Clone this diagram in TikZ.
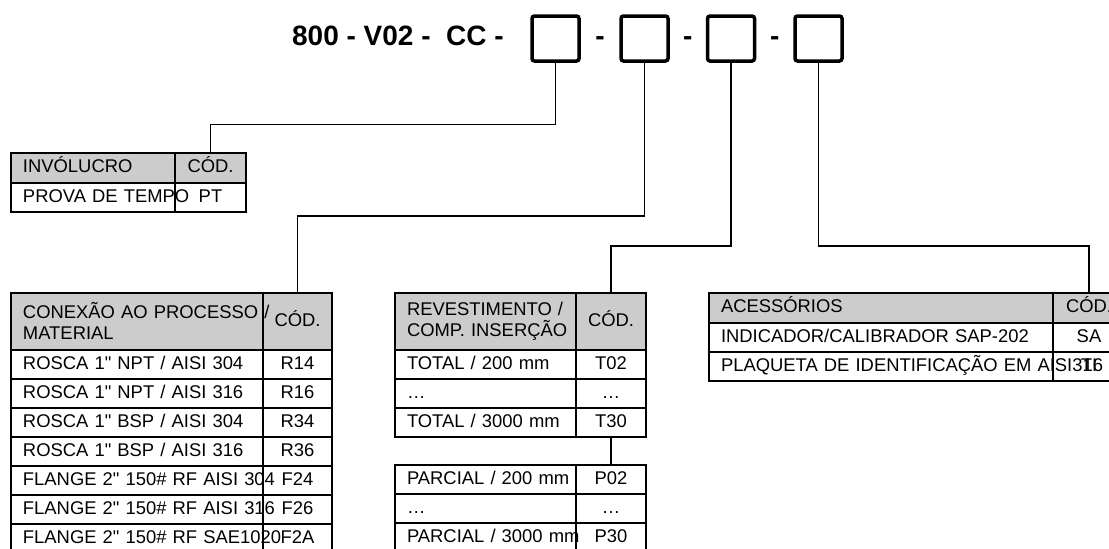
\documentclass[tikz,border=0pt]{standalone}
\usepackage{fontspec}
\newfontfamily\arialfont{Liberation Sans}
\usetikzlibrary{positioning, calc}
\definecolor{hdrgray}{RGB}{204,204,204}
\newcommand{\tabfont}{\arialfont\fontsize{18.4}{21}\selectfont}
\newcommand{\codefont}{\arialfont\bfseries\fontsize{28}{30}\selectfont}

\begin{document}
\begin{tikzpicture}[
    x=1pt, y=-1pt,
    font=\tabfont,
    node distance=0pt,
    cell/.style={draw, line width=1.8pt, outer sep=0pt, inner ysep=0pt, minimum height=29pt},
    oneline/.style={text height=13.4pt, text depth=3.6pt},
    txtcell/.style={cell, oneline, text width=#1, inner xsep=12pt, align=left},
    twocell/.style={cell, hdr, text width=#1, inner xsep=12pt, align=left, minimum height=57.3pt},
    codcell/.style={cell, oneline, minimum width=#1, inner xsep=0pt},
    hdr/.style={fill=hdrgray},
    slot/.style={draw, line width=3.5pt, rounded corners=2.5pt, minimum width=47pt, minimum height=45pt, outer sep=0pt},
    hyph/.style={font=\codefont, inner sep=0pt, anchor=base},
    wire/.style={line width=1.8pt},
]
\useasboundingbox (0,0) rectangle (1109,549);

% part number with the four open slots
\node[slot] (b1) at (555.5,38.5) {};
\node[slot, right=42pt of b1] (b2) {};
\node[slot, right=39.5pt of b2] (b3) {};
\node[slot, right=40.5pt of b3] (b4) {};
\node[font=\codefont, inner sep=0pt, anchor=base east] (pfx) at (504,45) {800 - V02 - \ CC -};
\node[hyph] (d1) at ($(b1.east)!0.5!(b2.west)+(0,6.5)$) {-};
\node[hyph] (d2) at ($(b2.east)!0.5!(b3.west)+(0,6.5)$) {-};
\node[hyph] (d3) at ($(b3.east)!0.5!(b4.west)+(0,6.5)$) {-};

% INVOLUCRO
\node[txtcell=140pt, hdr, minimum height=30pt, anchor=north west] (ih) at (11,153) {INVÓLUCRO};
\node[codcell=71pt, hdr, minimum height=30pt, right=of ih] (ic) {CÓD.};
\node[txtcell=140pt, below=of ih] (i1) {\rlap{PROVA DE TEMPO}};
\node[codcell=71pt, right=of i1] (i1c) {PT};

% conexao ao processo / material (code header first, so the slash stays on top)
\node[codcell=69pt, hdr, minimum height=57.3pt, anchor=north west] (cc) at (263,292.7) {CÓD.};
\node[twocell=228pt, left=of cc] (ch) {\rlap{CONEXÃO AO PROCESSO /}\\MATERIAL};
\node[txtcell=228pt, below=of ch] (c1) {\rlap{ROSCA 1" NPT / AISI 304}};
\node[codcell=69pt, right=of c1] (c1c) {R14};
\node[txtcell=228pt, below=of c1] (c2) {\rlap{ROSCA 1" NPT / AISI 316}};
\node[codcell=69pt, right=of c2] (c2c) {R16};
\node[txtcell=228pt, below=of c2] (c3) {\rlap{ROSCA 1" BSP / AISI 304}};
\node[codcell=69pt, right=of c3] (c3c) {R34};
\node[txtcell=228pt, below=of c3] (c4) {\rlap{ROSCA 1" BSP / AISI 316}};
\node[codcell=69pt, right=of c4] (c4c) {R36};
\node[txtcell=228pt, below=of c4] (c5) {\rlap{FLANGE 2" 150\# RF AISI 304}};
\node[codcell=69pt, right=of c5] (c5c) {F24};
\node[txtcell=228pt, below=of c5] (c6) {\rlap{FLANGE 2" 150\# RF AISI 316}};
\node[codcell=69pt, right=of c6] (c6c) {F26};
\node[txtcell=228pt, below=of c6] (c7) {\rlap{FLANGE 2" 150\# RF SAE1020}};
\node[codcell=69pt, right=of c7] (c7c) {F2A};

% revestimento / comp. insercao
\node[twocell=157pt, anchor=north west] (rh) at (395,292.7) {\rlap{REVESTIMENTO /}\\\rlap{COMP. INSERÇÃO}};
\node[codcell=70pt, hdr, minimum height=57.3pt, right=of rh] (rc) {CÓD.};
\node[txtcell=157pt, below=of rh] (r1) {\rlap{TOTAL / 200 mm}};
\node[codcell=70pt, right=of r1] (r1c) {T02};
\node[txtcell=157pt, below=of r1] (r2) {…};
\node[codcell=70pt, right=of r2] (r2c) {…};
\node[txtcell=157pt, below=of r2] (r3) {\rlap{TOTAL / 3000 mm}};
\node[codcell=70pt, right=of r3] (r3c) {T30};
\node[txtcell=157pt, below=28pt of r3] (p1) {\rlap{PARCIAL / 200 mm}};
\node[codcell=70pt, right=of p1] (p1c) {P02};
\node[txtcell=157pt, below=of p1] (p2) {…};
\node[codcell=70pt, right=of p2] (p2c) {…};
\node[txtcell=157pt, below=of p2] (p3) {\rlap{PARCIAL / 3000 mm}};
\node[codcell=70pt, right=of p3] (p3c) {P30};

% acessorios
\node[txtcell=320pt, hdr, minimum height=30.6pt, anchor=north west] (ah) at (709,292.7) {ACESSÓRIOS};
\node[codcell=72pt, hdr, minimum height=30.6pt, right=of ah] (ac) {CÓD.};
\node[txtcell=320pt, below=of ah] (a1) {\rlap{INDICADOR/CALIBRADOR SAP-202}};
\node[codcell=72pt, right=of a1] (a1c) {SA};
\node[txtcell=320pt, below=of a1] (a2) {\rlap{PLAQUETA DE IDENTIFICAÇÃO EM AISI316}};
\node[codcell=72pt, right=of a2] (a2c) {TI};

% connectors
\draw[wire] (b1.south) -- ++(0,63.5) -| (ic.north);
\draw[wire] (b2.south) -- ++(0,155) -| (cc.north);
\draw[wire] (b3.south) -- ++(0,185) -| (rc.north);
\draw[wire] (b4.south) -- ++(0,185) -| (ac.north);
\draw[wire] (r3c.south) -- (p1c.north);
\end{tikzpicture}
\end{document}
